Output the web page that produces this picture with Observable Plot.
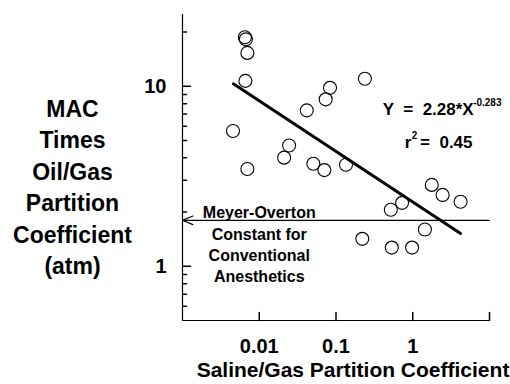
<!DOCTYPE html>
<html><head><meta charset="utf-8">
<script src="https://cdn.jsdelivr.net/npm/d3@7"></script>
<script src="https://cdn.jsdelivr.net/npm/@observablehq/plot@0.6"></script>
<style>body{margin:0;background:#fff}</style>
</head><body><div id="chart"></div>
<script>
// Data
const salineGas = [0.0065, 0.0067, 0.0070, 0.0066, 0.238, 0.0836, 0.0734, 0.0416, 0.00455, 0.0245, 0.0211, 0.0070, 0.0507, 0.0705, 0.135, 1.77, 2.45, 4.20, 0.726, 0.518, 1.44, 0.220, 0.533, 0.98];
const macTimesOil = [18.7, 18.2, 15.3, 10.7, 11.0, 9.79, 8.45, 7.34, 5.64, 4.68, 4.01, 3.47, 3.71, 3.42, 3.66, 2.83, 2.49, 2.28, 2.25, 2.06, 1.60, 1.42, 1.27, 1.27];
const fitX = [0.0046, 4.2];
const fitY = [10.3, 1.52];
const meyerOverton = [1.8];
const xTickLabels = [0.01, 0.1, 1];
const xTicks = [0.01, 0.1, 1, 10];
const yTickLabels = [1, 10];
const yMajorTicks = [1, 10];
const yMinorTicks = [0.6, 0.7, 0.8, 0.9, 2, 3, 4, 5, 6, 7, 8, 9, 20];
const yTitleLines = ["MAC", "Times", "Oil/Gas", "Partition", "Coefficient", "(atm)"];
const xTitle = ["Saline/Gas Partition Coefficient"];
const noteLines = ["Meyer-Overton", "Constant for", "Conventional", "Anesthetics"];
const eqMain = ["Y  =  2.28*X"];
const eqExp = ["-0.283"];
const r2Base = ["r"];
const r2Exp = ["2"];
const r2Value = ["=  0.45"];

const points = salineGas.map((x, i) => ({x, y: macTimesOil[i]}));
const fit = fitX.map((x, i) => ({x, y: fitY[i]}));
const font = "'Liberation Sans', Arial, Helvetica, sans-serif";
const tickShape = {draw(context, l) { context.moveTo(0, 0); context.lineTo(0, -l); }};

const chart = Plot.plot({
  width: 510, height: 384,
  marginLeft: 182, marginRight: 21, marginTop: 14, marginBottom: 64,
  style: {fontFamily: font, fontWeight: "bold", background: "#fff", color: "#000"},
  x: {type: "log", domain: [0.001, 10]},
  y: {type: "log", domain: [0.5, 25]},
  marks: [
    Plot.ruleX([0.001], {stroke: "#000", strokeWidth: 1.2}),
    Plot.ruleY([0.5], {stroke: "#000", strokeWidth: 1.2}),
    Plot.vector(xTicks, {x: d => d, y: 0.5, length: 8, rotate: 0, anchor: "start", shape: tickShape, stroke: "#000"}),
    Plot.vector(yMajorTicks, {x: 0.001, y: d => d, length: 8, rotate: 90, anchor: "start", shape: tickShape, stroke: "#000"}),
    Plot.vector(yMinorTicks, {x: 0.001, y: d => d, length: 4, rotate: 90, anchor: "start", shape: tickShape, stroke: "#000"}),
    Plot.axisX({ticks: xTickLabels, tickSize: 0, tickPadding: 18, fontSize: 20, fontWeight: "bold", label: null, tickFormat: d => String(d)}),
    Plot.axisY({ticks: yTickLabels, tickSize: 0, tickPadding: 16, fontSize: 20, fontWeight: "bold", label: null, tickFormat: d => String(d)}),
    Plot.text([yTitleLines.join("\n")], {text: d => d, frameAnchor: "left", dx: -110, dy: 18, fontSize: 23, lineHeight: 1.37, textAnchor: "middle", fill: "#000"}),
    Plot.text(xTitle, {text: d => d, frameAnchor: "bottom", dx: 17, dy: 56, fontSize: 21, textAnchor: "middle", fill: "#000"}),
    Plot.arrow(meyerOverton, {x1: 10, x2: 0.001, y1: d => d, y2: d => d, headLength: 14, headAngle: 45, stroke: "#000", strokeWidth: 1.2}),
    Plot.text([noteLines.join("\n")], {text: d => d, x: 0.01, y: 1.34, fontSize: 16, lineHeight: 1.33, textAnchor: "middle", fill: "#000"}),
    Plot.line(fit, {x: "x", y: "y", stroke: "#000", strokeWidth: 3}),
    Plot.dot(points, {x: "x", y: "y", r: 6.5, stroke: "#000", strokeWidth: 1.1, fill: "none"}),
    Plot.text(eqMain, {text: d => d, x: 0.407, y: 7.37, fontSize: 17, textAnchor: "start", fill: "#000"}),
    Plot.text(eqExp, {text: d => d, x: 10, y: 7.37, dx: 12, dy: -7, fontSize: 10, textAnchor: "end", fill: "#000"}),
    Plot.text(r2Base, {text: d => d, x: 0.787, y: 4.84, fontSize: 17, textAnchor: "start", fill: "#000"}),
    Plot.text(r2Exp, {text: d => d, x: 0.787, y: 4.84, dx: 7, dy: -7, fontSize: 10, textAnchor: "start", fill: "#000"}),
    Plot.text(r2Value, {text: d => d, x: 6.01, y: 4.84, fontSize: 17, textAnchor: "end", fill: "#000"})
  ]
});
document.getElementById("chart").appendChild(chart);
</script>
</body></html>
